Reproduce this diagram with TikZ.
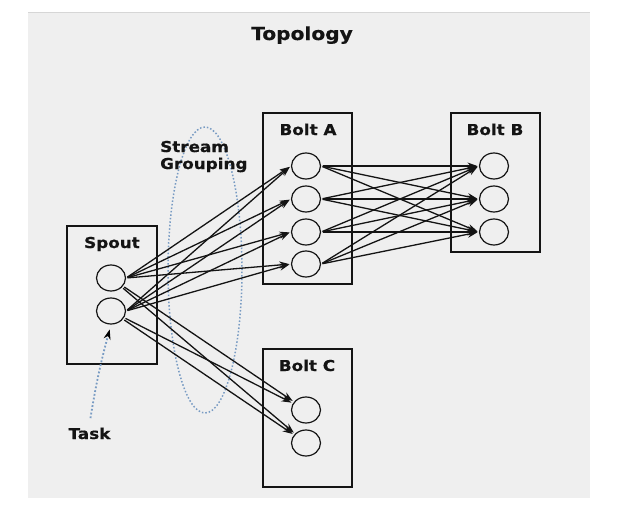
\documentclass[tikz,border=0pt]{standalone}
\usepackage{fontspec}
\usepackage{tikz}
\usetikzlibrary{arrows.meta, positioning}
\usetikzlibrary{shapes.geometric}
\newfontfamily\diagfont{DejaVu Sans Bold}[FakeStretch=1.12, FakeBold=0.6]
\definecolor{bgpanel}{RGB}{239,239,239}
\definecolor{bgedge}{RGB}{214,214,214}
\definecolor{inkline}{RGB}{20,20,20}
\definecolor{dotblue}{RGB}{120,155,195}

\begin{document}
\begin{tikzpicture}[x=1pt,y=-1pt,
    heading/.style={font=\diagfont\fontsize{15}{17}\selectfont, text=inkline, anchor=base},
    compbox/.style={draw=inkline, line width=1.6pt, rectangle},
    task/.style={ellipse, draw=inkline, line width=1.2pt, minimum width=29pt, minimum height=26pt, inner sep=0pt},
    flow/.style={draw=inkline, line width=1.3pt, -{Stealth[length=10pt,width=7pt]}, shorten >=1.5pt, shorten <=1.5pt}]
            \useasboundingbox (0,0) rectangle (627,509);
            \fill[bgpanel] (28,12) rectangle (590,498);
            \draw[bgedge, line width=0.8pt] (28,12) -- (590,12);

            \node[heading, font=\diagfont\fontsize{18}{20}\selectfont](topo) at (302,40) {Topology};

            % components
            \node[compbox, minimum width=90pt, minimum height=138pt](spout) at (112,295) {};
            \node[compbox, minimum width=89pt, minimum height=171pt](bolta) at (307.5,198.5) {};
            \node[compbox, minimum width=89pt, minimum height=139pt](boltb) at (495.5,182.5) {};
            \node[compbox, minimum width=89pt, minimum height=138pt](boltc) at (307.5,418) {};
            \node[heading](spoutname) at (112,248) {Spout};
            \node[heading](boltaname) at (308,135) {Bolt A};
            \node[heading](boltbname) at (495,135) {Bolt B};
            \node[heading](boltcname) at (307,371) {Bolt C};

            % tasks
            \node[task](s1) at (111,278) {};
            \node[task](s2) at (111,311) {};
            \node[task](a1) at (306,166) {};
            \node[task](a2) at (306,199) {};
            \node[task](a3) at (306,232) {};
            \node[task](a4) at (306,264) {};
            \node[task](b1) at (494,166) {};
            \node[task](b2) at (494,199) {};
            \node[task](b3) at (494,232) {};
            \node[task](c1) at (306,410) {};
            \node[task](c2) at (306,443) {};

            % stream grouping
            \node[ellipse, draw=dotblue, dotted, line width=1.5pt, minimum width=74pt, minimum height=286pt, inner sep=0pt](group) at (205,270) {};
            \node[heading, anchor=base west, inner sep=0pt](streamname) at (160,152) {Stream};
            \node[heading, anchor=base west, inner sep=0pt](groupname) at (160,169) {Grouping};
            \node[heading](taskname) at (89.5,439) {Task};

            \foreach \i in {1,2}
                \foreach \j in {1,...,4}
                    \draw[flow] (s\i.east) -- (a\j.west);
            \foreach \i in {1,2}
                \foreach \j in {1,2}
                    \draw[flow] (s\i) -- (c\j);
            \foreach \i in {1,...,4}
                \foreach \j in {1,...,3}
                    \draw[flow] (a\i.east) -- (b\j.west);

            \draw[dotblue, dotted, line width=1.8pt, -{Stealth[length=10pt,width=7pt,black]}, shorten <=6pt, shorten >=5pt] (taskname.north) to[bend left=3] (s2.south);
        \end{tikzpicture}
\end{document}
